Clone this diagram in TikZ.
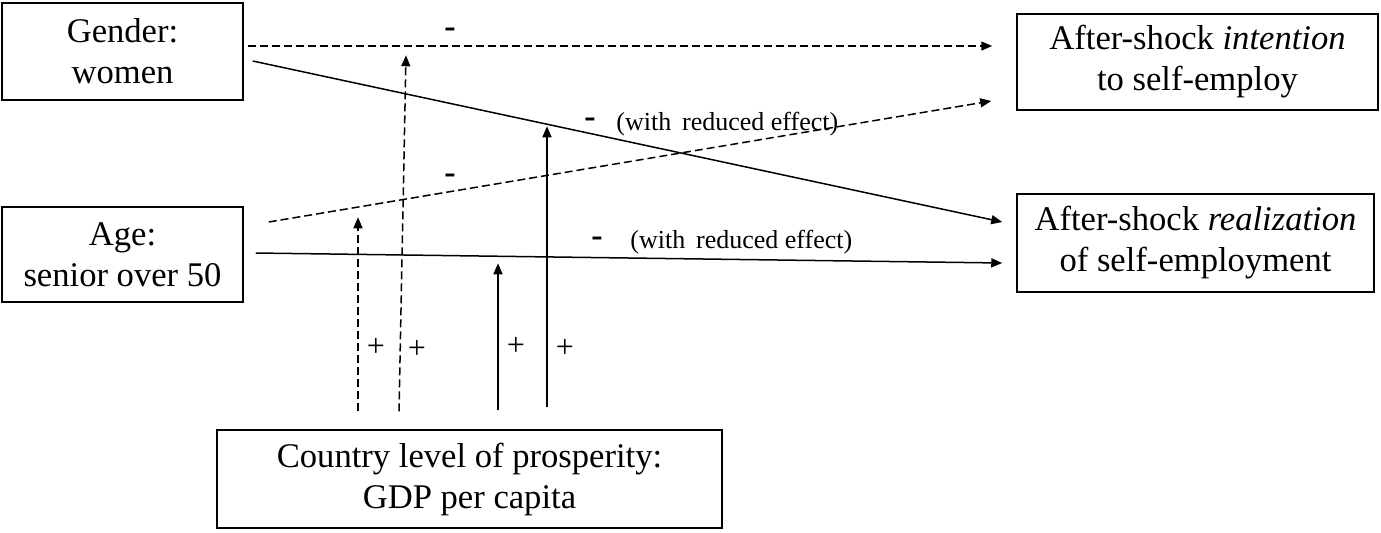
\documentclass[tikz,border=0pt]{standalone}
\usepackage{fontspec}
\setmainfont{Liberation Serif}
\usetikzlibrary{arrows.meta,calc}
\begin{document}
\begin{tikzpicture}[x=0.5pt,y=-0.5pt,
  box/.style={draw,line width=0.75pt,inner sep=0pt,align=center,font=\fontsize{17.3}{20.5}\selectfont},
  conn/.style={line width=0.75pt,-{Triangle[length=5.5pt,width=4.5pt]}},
  dsh/.style={dash pattern=on 4pt off 2pt},
  lbl/.style={font=\fontsize{13}{15}\selectfont,inner sep=0pt},
  pls/.style={font=\fontsize{16}{16}\selectfont,inner sep=0pt},
  sgn/.style={font=\fontsize{17}{17}\selectfont\bfseries,inner sep=0pt}]
\useasboundingbox (0,0) rectangle (1381,532);
% boxes
\node[box,minimum width=120.5pt,minimum height=48.5pt] (gender) at (122.5,51.5) {Gender:\\women};
\node[box,minimum width=120.5pt,minimum height=47.5pt] (age) at (122.5,254.5) {Age:\\senior over 50};
\node[box,minimum width=180.5pt,minimum height=48pt] (intent) at (1197.5,62) {After-shock \textit{intention}\\to self-employ};
\node[box,minimum width=178.5pt,minimum height=49pt] (real) at (1195.5,243) {After-shock \textit{realization}\\of self-employment};
\node[box,minimum width=252.5pt,minimum height=49pt] (gdp) at (469.5,479) {Country level of prosperity:\\GDP per capita};
% connector end points
\coordinate (g1s) at ($(gender.east)+(4,-5.5)$);
\coordinate (g1e) at ($(intent.west)+(-24,-16)$);
\coordinate (g2s) at ($(gender.east)+(9,9.5)$);
\coordinate (g2e) at ($(real.west)+(-14,-21)$);
\coordinate (a1s) at ($(age.east)+(25,-32.5)$);
\coordinate (a1e) at ($(intent.west)+(-25,39)$);
\coordinate (a2s) at ($(age.east)+(12,-1.5)$);
\coordinate (a2e) at ($(real.west)+(-14,20)$);
\coordinate (v1s) at ($(gdp.north)+(-111.5,-18)$);
\coordinate (v1e) at ($(gdp.north)+(-111.5,-212)$);
\coordinate (v2s) at ($(gdp.north)+(-70.5,-18)$);
\coordinate (v2e) at ($(gdp.north)+(-63.5,-374)$);
\coordinate (v3s) at ($(gdp.north)+(28.5,-19)$);
\coordinate (v3e) at ($(gdp.north)+(28.5,-166)$);
\coordinate (v4s) at ($(gdp.north)+(77.5,-22)$);
\coordinate (v4e) at ($(gdp.north)+(77.5,-303)$);
% connectors
\draw[conn,dsh] (g1s) -- (g1e);
\draw[conn] (g2s) -- (g2e);
\draw[conn,dsh] (a1s) -- (a1e);
\draw[conn] (a2s) -- (a2e);
\draw[conn,dsh] (v1s) -- (v1e);
\draw[conn,dsh] (v2s) -- (v2e);
\draw[conn] (v3s) -- (v3e);
\draw[conn] (v4s) -- (v4e);
% labels
\node[sgn] (m1) at (450,33) {-};
\node[sgn] (m2) at (590,123) {-};
\node[sgn] (m3) at (450,179) {-};
\node[sgn] (m4) at (597,242) {-};
\node[lbl,anchor=west] (r1) at (616,124) {(with\, reduced effect)};
\node[lbl,anchor=west] (r2) at (630,242) {(with\, reduced effect)};
\node[pls] (p1) at (376,347) {+};
\node[pls] (p2) at (417,349) {+};
\node[pls] (p3) at (516,346) {+};
\node[pls] (p4) at (565,348) {+};
\end{tikzpicture}
\end{document}
